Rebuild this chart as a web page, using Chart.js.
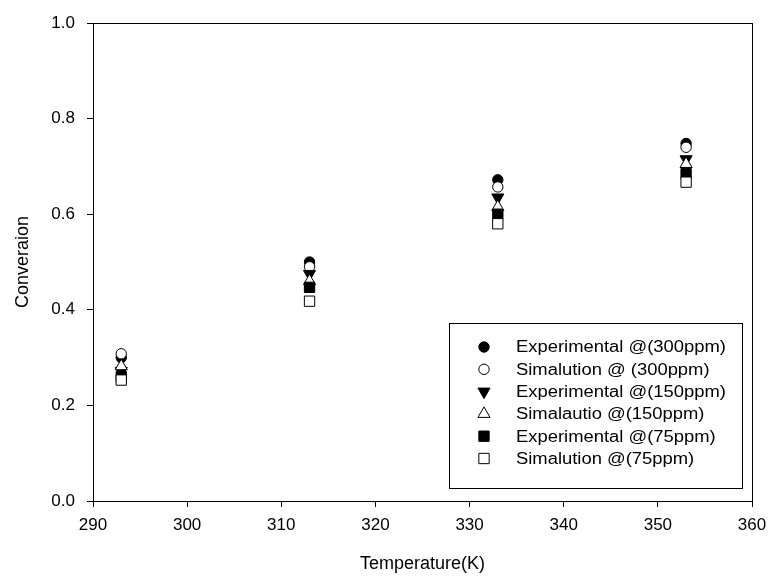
<!DOCTYPE html>
<html>
<head>
<meta charset="utf-8">
<script src="https://cdn.jsdelivr.net/npm/chart.js@4"></script>
<style>
  html, body { margin: 0; padding: 0; background: #fff; }
  #wrap { position: relative; width: 769px; height: 579px; }
</style>
</head>
<body>
<div id="wrap"><canvas id="chart" width="769" height="579"></canvas></div>
<script>
// temperatures (K)
const temps = [293, 313, 333, 353];

// conversion values
const exp300 = [0.300, 0.500, 0.672, 0.748];
const sim300 = [0.308, 0.490, 0.657, 0.740];
const exp150 = [0.272, 0.475, 0.635, 0.715];
const sim150 = [0.282, 0.460, 0.615, 0.705];
const exp75  = [0.260, 0.447, 0.600, 0.685];
const sim75  = [0.253, 0.418, 0.580, 0.667];

const labels = [
  'Experimental @(300ppm)',
  'Simalution @ (300ppm)',
  'Experimental @(150ppm)',
  'Simalautio @(150ppm)',
  'Experimental @(75ppm)',
  'Simalution @(75ppm)'
];

const xTicks = [290, 300, 310, 320, 330, 340, 350, 360];
const yTicks = [0.0, 0.2, 0.4, 0.6, 0.8, 1.0];

const FONT = 'Liberation Sans, Arial, Helvetica, sans-serif';

const styles = [
  { pointStyle: 'circle',   radius: 5.2, fill: '#000', rot: 0 },
  { pointStyle: 'circle',   radius: 5.2, fill: '#fff', rot: 0 },
  { pointStyle: 'triangle', radius: 7,   fill: '#000', rot: 180 },
  { pointStyle: 'triangle', radius: 7,   fill: '#fff', rot: 0 },
  { pointStyle: 'rect',     radius: 7.3, fill: '#000', rot: 0 },
  { pointStyle: 'rect',     radius: 7.3, fill: '#fff', rot: 0 }
];

const series = [exp300, sim300, exp150, sim150, exp75, sim75];

const datasets = series.map((vals, i) => ({
  label: labels[i],
  data: temps.map((t, j) => ({ x: t, y: vals[j] })),
  showLine: false,
  pointStyle: styles[i].pointStyle,
  pointRadius: styles[i].radius,
  pointHoverRadius: styles[i].radius,
  pointRotation: styles[i].rot,
  pointBackgroundColor: styles[i].fill,
  pointBorderColor: '#000',
  pointBorderWidth: 1,
  order: series.length - i   // later series drawn on top
}));

// box around the plot area + legend box inside it
const framePlugin = {
  id: 'frame',
  afterDatasetsDraw(chart) {
    const { ctx, chartArea: a } = chart;
    ctx.save();
    ctx.strokeStyle = '#000';
    ctx.lineWidth = 1;
    ctx.strokeRect(Math.round(a.left) + 0.5, Math.round(a.top) + 0.5,
                   Math.round(a.right - a.left), Math.round(a.bottom - a.top));

    // legend
    const bx = 449.5, by = 323.5, bw = 293, bh = 165;
    ctx.fillStyle = '#fff';
    ctx.fillRect(bx, by, bw, bh);
    ctx.strokeRect(bx, by, bw, bh);
    ctx.font = '16px ' + FONT;
    ctx.textBaseline = 'middle';
    ctx.textAlign = 'left';
    chart.data.datasets.forEach((ds, i) => {
      const y = 347 + i * 22.3;
      ctx.fillStyle = styles[i].fill;
      ctx.strokeStyle = '#000';
      ctx.lineWidth = 1;
      Chart.helpers.drawPoint(ctx, {
        pointStyle: ds.pointStyle,
        radius: ds.pointRadius,
        rotation: ds.pointRotation,
        borderWidth: 1
      }, 484, y);
      // text in the source is a little wider than plain Arial
      ctx.save();
      ctx.translate(516, y + 1);
      ctx.scale(1.15, 1);
      ctx.fillStyle = '#000';
      ctx.fillText(ds.label, 0, 0);
      ctx.restore();
    });
    ctx.restore();
  }
};

new Chart(document.getElementById('chart'), {
  type: 'scatter',
  data: { datasets },
  plugins: [framePlugin],
  options: {
    responsive: false,
    animation: false,
    layout: { padding: { top: 23, right: 17, left: 0, bottom: 0 } },
    plugins: {
      legend: { display: false },
      tooltip: { enabled: false }
    },
    scales: {
      x: {
        type: 'linear',
        min: 290, max: 360,
        afterBuildTicks: s => { s.ticks = xTicks.map(v => ({ value: v })); },
        afterFit: s => { s.height = 78; s.paddingLeft = 0; s.paddingRight = 0; },
        grid: { drawOnChartArea: false, drawTicks: true, tickLength: 6, color: '#000', lineWidth: 1 },
        border: { display: false },
        ticks: { color: '#000', font: { family: FONT, size: 17 }, padding: 8, maxRotation: 0 },
        title: { display: true, text: 'Temperature(K)', color: '#000', font: { family: FONT, size: 18 }, padding: { top: 8 } }
      },
      y: {
        min: 0, max: 1,
        afterBuildTicks: s => { s.ticks = yTicks.map(v => ({ value: v })); },
        afterFit: s => { s.width = 93; s.paddingTop = 0; s.paddingBottom = 0; },
        grid: { drawOnChartArea: false, drawTicks: true, tickLength: 6, color: '#000', lineWidth: 1 },
        border: { display: false },
        ticks: { color: '#000', font: { family: FONT, size: 17 }, padding: 12, callback: v => v.toFixed(1) },
        title: { display: true, text: 'Converaion', color: '#000', font: { family: FONT, size: 18 }, padding: { top: 12, bottom: 4 } }
      }
    }
  }
});
</script>
</body>
</html>
